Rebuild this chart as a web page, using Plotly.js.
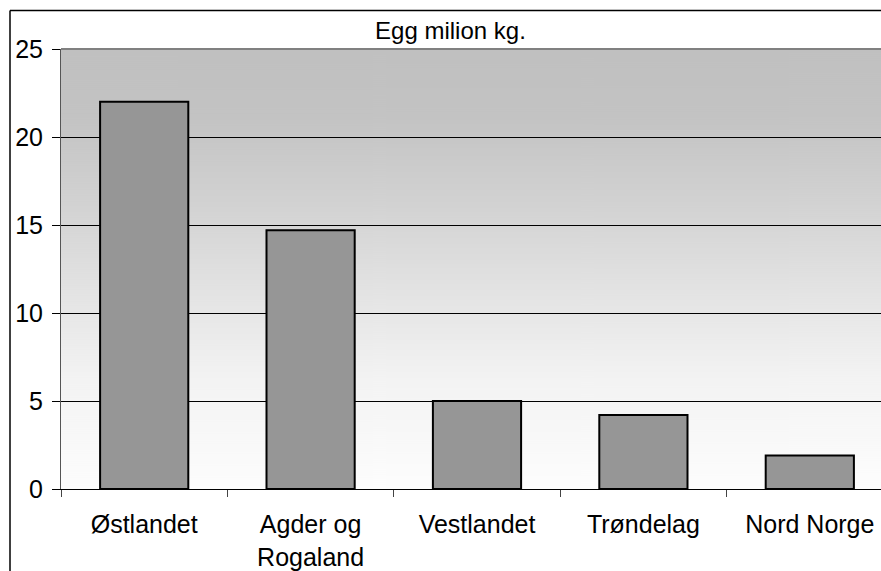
<!DOCTYPE html>
<html>
<head>
<meta charset="utf-8">
<script src="https://cdn.plot.ly/plotly-3.0.1.min.js"></script>
<style>
html, body { margin: 0; padding: 0; overflow: hidden; background: #fff; }
#chart { width: 910px; height: 590px; }
</style>
</head>
<body>
<div id="chart"></div>
<script>
// Data
const categories = ["Østlandet", "Agder og<br>Rogaland", "Vestlandet", "Trøndelag", "Nord Norge"];
const eggMillionKg = [22, 14.7, 5, 4.2, 1.9];
const yTicks = [0, 5, 10, 15, 20, 25];
const chartTitle = "Egg milion kg.";

// Gradient background image for the plot area
function gradientURL() {
  const c = document.createElement('canvas');
  c.width = 4; c.height = 440;
  const g = c.getContext('2d');
  const grd = g.createLinearGradient(0, 0, 0, 440);
  grd.addColorStop(0.0, '#c0c0c0');
  grd.addColorStop(0.15, '#c3c3c3');
  grd.addColorStop(0.35, '#d2d2d2');
  grd.addColorStop(0.55, '#e3e3e3');
  grd.addColorStop(0.75, '#f3f3f3');
  grd.addColorStop(1.0, '#fdfdfd');
  g.fillStyle = grd;
  g.fillRect(0, 0, 4, 440);
  return c.toDataURL();
}

const W = 910, H = 590;
const mL = 61, mT = 49, mR = W - 893, mB = H - 489;
const pw = W - mL - mR, ph = H - mT - mB;

const trace = {
  type: 'bar',
  x: categories,
  y: eggMillionKg,
  marker: { color: '#969696', line: { color: '#000000', width: 2 } },
  hoverinfo: 'skip'
};

const bx0 = (10 - mL) / pw, bx1 = (W + 40 - mL) / pw;
const by0 = (mB - H - 40) / ph, by1 = 1 + (mT - 10.5) / ph;

const layout = {
  width: W, height: H,
  margin: { l: mL, r: mR, t: mT, b: mB, pad: 0 },
  paper_bgcolor: '#ffffff',
  plot_bgcolor: 'rgba(0,0,0,0)',
  font: { family: 'Liberation Sans, Arial, sans-serif', color: '#000000', size: 25 },
  showlegend: false,
  bargap: 0.47,
  title: {
    text: chartTitle,
    font: { size: 24, family: 'Liberation Sans, Arial, sans-serif', color: '#000' },
    xref: 'container', yref: 'container',
    x: 0.495, xanchor: 'center',
    y: 1 - 31 / H, yanchor: 'middle'
  },
  xaxis: {
    type: 'category',
    tickson: 'boundaries',
    ticks: 'outside', ticklen: 7, tickcolor: '#444', tickwidth: 1,
    showline: true, linecolor: '#000', linewidth: 1,
    showgrid: false, zeroline: false,
    ticklabelstandoff: 13,
    tickfont: { size: 25 }
  },
  yaxis: {
    range: [0, 25],
    tickvals: yTicks,
    ticktext: yTicks.map(String),
    ticks: 'outside', ticklen: 8, tickcolor: '#000', tickwidth: 1,
    showline: true, linecolor: '#555', linewidth: 1,
    showgrid: true, gridcolor: '#000', gridwidth: 1,
    zeroline: false,
    ticklabelstandoff: 4,
    tickfont: { size: 25 }
  },
  images: [{
    source: gradientURL(),
    xref: 'paper', yref: 'paper',
    x: 0, y: 1, sizex: 1, sizey: 1,
    xanchor: 'left', yanchor: 'top',
    sizing: 'stretch', layer: 'below'
  }],
  shapes: [
    { type: 'line', xref: 'paper', yref: 'paper', x0: 0, x1: 1, y0: 1, y1: 1,
      line: { color: '#808080', width: 2 } },
    { type: 'line', xref: 'paper', yref: 'paper', x0: bx0, x1: bx0, y0: by0, y1: by1,
      line: { color: '#000', width: 1.5 } },
    { type: 'line', xref: 'paper', yref: 'paper', x0: bx0, x1: bx1, y0: by1, y1: by1,
      line: { color: '#000', width: 1.5 } }
  ]
};

Plotly.newPlot('chart', [trace], layout, { displayModeBar: false, staticPlot: true });
</script>
</body>
</html>
